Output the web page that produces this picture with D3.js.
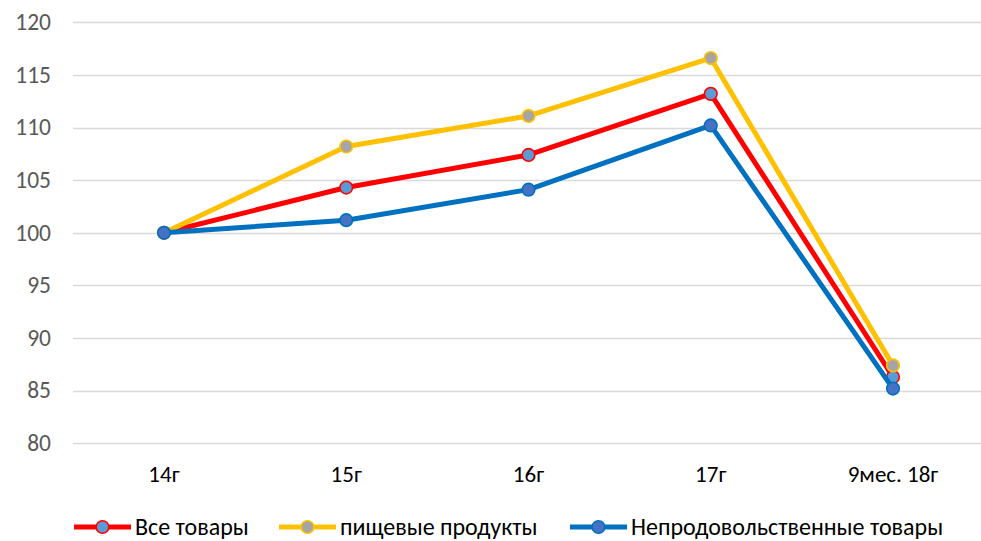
<!DOCTYPE html>
<html>
<head>
<meta charset="utf-8">
<script src="https://cdn.jsdelivr.net/npm/d3@7"></script>
<style>
  body { margin: 0; background: #fff; }
  svg { display: block; font-family: Carlito, "Open Sans", sans-serif; }
</style>
</head>
<body>
<svg width="981" height="541"></svg>
<script>
var categories = ["14г", "15г", "16г", "17г", "9мес. 18г"];
var allGoods = [100, 104.3, 107.4, 113.2, 86.3];
var foodGoods = [100, 108.2, 111.1, 116.6, 87.4];
var nonFoodGoods = [100, 101.2, 104.1, 110.2, 85.2];
var yTicks = [80, 85, 90, 95, 100, 105, 110, 115, 120];

var series = [
  { name: "Все товары", values: allGoods, line: "#FF0000", fill: "#5B9BD5", stroke: "#FF0000" },
  { name: "пищевые продукты", values: foodGoods, line: "#FFC000", fill: "#A5A5A5", stroke: "#FFC000" },
  { name: "Непродовольственные товары", values: nonFoodGoods, line: "#0070C0", fill: "#4472C4", stroke: "#0070C0" }
];

var svg = d3.select("svg");

var x = d3.scalePoint()
  .domain(categories)
  .range([164, 893]);

var y = d3.scaleLinear()
  .domain([80, 120])
  .range([443.3, 22.3]);

// grid
svg.append("g")
  .selectAll("line")
  .data(yTicks)
  .enter()
  .append("line")
  .attr("x1", 73)
  .attr("x2", 981)
  .attr("y1", d => Math.round(y(d)) + 0.5)
  .attr("y2", d => Math.round(y(d)) + 0.5)
  .attr("stroke", "#d9d9d9")
  .attr("stroke-width", 1.3);

// y labels
svg.append("g")
  .selectAll("text")
  .data(yTicks)
  .enter()
  .append("text")
  .attr("x", 51)
  .attr("y", d => y(d))
  .attr("dy", "0.33em")
  .attr("text-anchor", "end")
  .attr("fill", "#595959")
  .style("font-size", "23.5px")
  .text(d => d);

// x labels
svg.append("g")
  .selectAll("text")
  .data(categories)
  .enter()
  .append("text")
  .attr("x", d => x(d))
  .attr("y", 482)
  .attr("text-anchor", "middle")
  .attr("fill", "#000")
  .style("font-size", "23px")
  .text(d => d);

var line = d3.line()
  .x((d, i) => x(categories[i]))
  .y(d => y(d));

series.forEach(function(s) {
  var g = svg.append("g");
  g.append("path")
    .attr("d", line(s.values))
    .attr("fill", "none")
    .attr("stroke", s.line)
    .attr("stroke-width", 5)
    .attr("stroke-linejoin", "round");
  g.selectAll("circle")
    .data(s.values)
    .enter()
    .append("circle")
    .attr("cx", (d, i) => x(categories[i]))
    .attr("cy", d => y(d))
    .attr("r", 6.3)
    .attr("fill", s.fill)
    .attr("stroke", s.stroke)
    .attr("stroke-width", 1.6);
});

// legend
var legendX = [74, 279, 570];
var legend = svg.append("g");
series.forEach(function(s, i) {
  var lg = legend.append("g").attr("transform", "translate(" + legendX[i] + ",527)");
  lg.append("line")
    .attr("x1", 0).attr("x2", 57)
    .attr("stroke", s.line)
    .attr("stroke-width", 5);
  lg.append("circle")
    .attr("cx", 28.5)
    .attr("r", 6.3)
    .attr("fill", s.fill)
    .attr("stroke", s.stroke)
    .attr("stroke-width", 1.6);
  lg.append("text")
    .attr("x", 61)
    .attr("dy", "0.33em")
    .attr("fill", "#000")
    .style("font-size", "24px")
    .text(s.name);
});
</script>
</body>
</html>
